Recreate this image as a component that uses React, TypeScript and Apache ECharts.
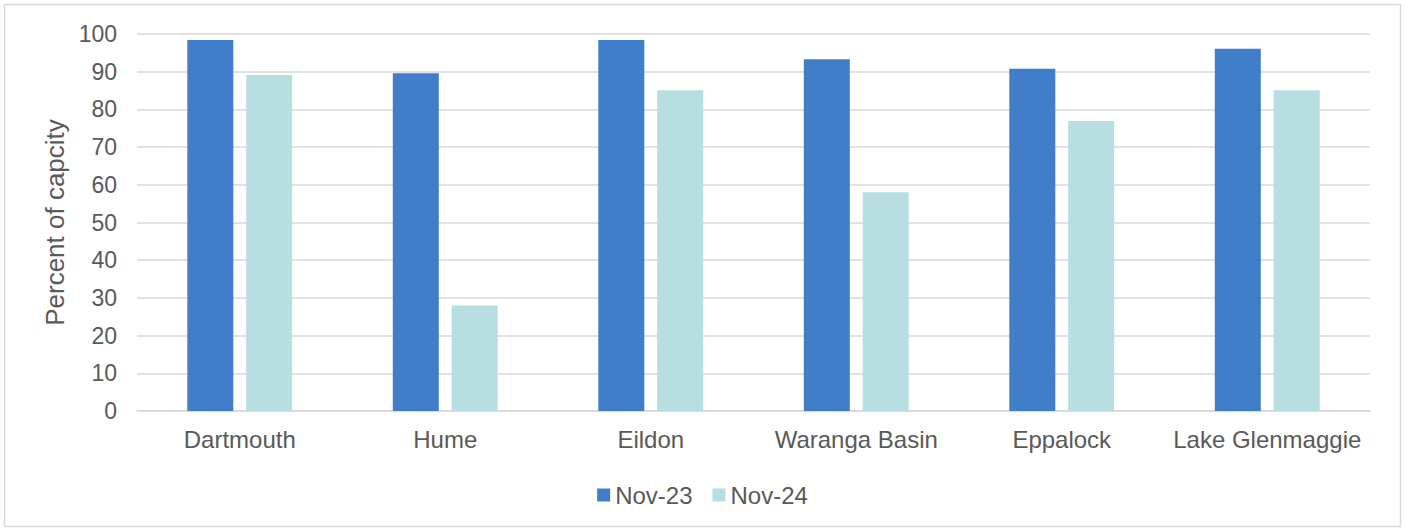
import React, { useEffect, useRef } from "react";
import * as echarts from "echarts";

const categories = ["Dartmouth", "Hume", "Eildon", "Waranga Basin", "Eppalock", "Lake Glenmaggie"];
const nov23 = [98.4, 89.6, 98.4, 93.3, 90.8, 96.1];
const nov24 = [89.1, 28.0, 85.1, 58.0, 76.9, 85.1];
const seriesNames = ["Nov-23", "Nov-24"];

export default function App() {
  const ref = useRef<HTMLDivElement>(null);
  useEffect(() => {
    document.body.style.margin = "0";
    const chart = echarts.init(ref.current!, null, { renderer: "svg" });
    const font = "'Liberation Sans', Arial, sans-serif";
    chart.setOption({
      animation: false,
      backgroundColor: "#ffffff",
      textStyle: { fontFamily: font },
      graphic: [
        {
          type: "rect",
          shape: { x: 4.5, y: 4.5, width: 1396, height: 522 },
          style: { fill: "none", stroke: "#d9d9d9", lineWidth: 1.5 },
          silent: true,
        },
      ],
      grid: { left: 137, right: 35, top: 34, bottom: 117, containLabel: false },
      legend: {
        data: seriesNames,
        top: 478,
        left: "center",
        icon: "rect",
        itemWidth: 13,
        itemHeight: 13,
        itemGap: 20,
        textStyle: { fontSize: 24, color: "#595959", fontFamily: font },
      },
      xAxis: {
        type: "category",
        data: categories,
        axisLine: { lineStyle: { color: "#d9d9d9", width: 1.5 } },
        axisTick: { show: false },
        axisLabel: { fontSize: 24, color: "#595959", margin: 16, interval: 0, fontFamily: font },
      },
      yAxis: {
        type: "value",
        min: 0,
        max: 100,
        interval: 10,
        name: "Percent of capcity",
        nameLocation: "middle",
        nameRotate: 90,
        nameGap: 69,
        nameTextStyle: { fontSize: 26, color: "#595959", fontFamily: font },
        axisLine: { show: false },
        axisTick: { show: false },
        axisLabel: { fontSize: 23, color: "#595959", margin: 20, fontFamily: font },
        splitLine: { lineStyle: { color: "#d9d9d9", width: 1.5 } },
      },
      series: [
        {
          name: seriesNames[0],
          type: "bar",
          data: nov23,
          barWidth: 46,
          barGap: "28%",
          itemStyle: { color: "#407ECA" },
        },
        {
          name: seriesNames[1],
          type: "bar",
          data: nov24,
          barWidth: 46,
          barGap: "28%",
          itemStyle: { color: "#B7DEE0" },
        },
      ],
    });
    return () => chart.dispose();
  }, []);
  return <div ref={ref} style={{ width: 1405, height: 528 }} />;
}
